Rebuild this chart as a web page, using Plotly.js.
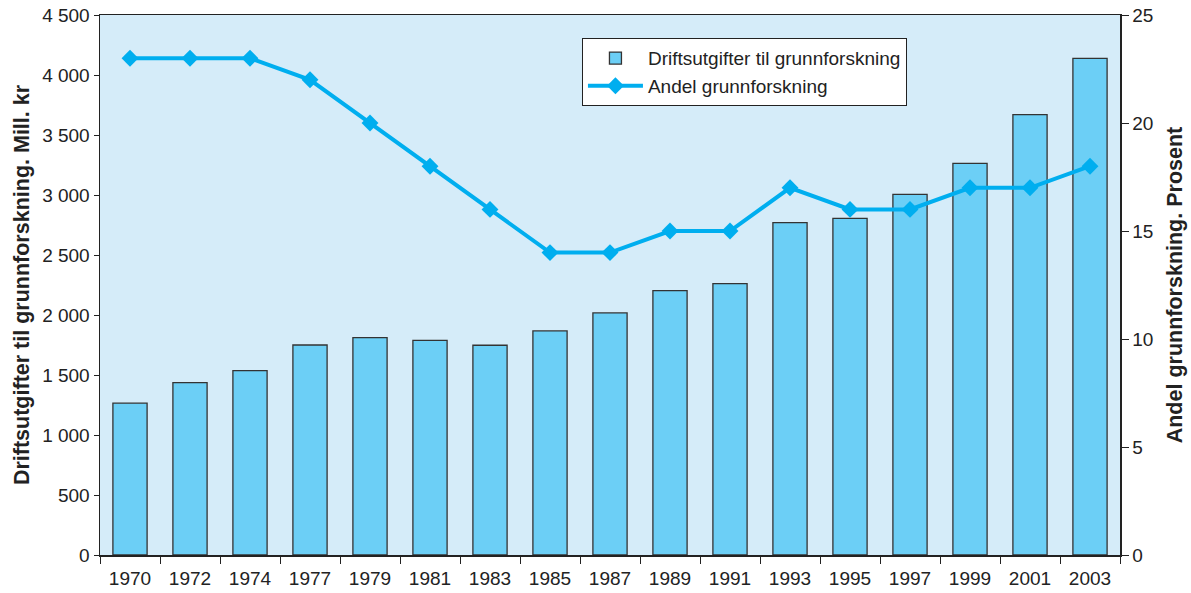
<!DOCTYPE html>
<html>
<head>
<meta charset="utf-8">
<script src="https://cdn.plot.ly/plotly-3.0.1.min.js"></script>
<style>html,body{margin:0;padding:0;background:#fff;}#chart{width:1191px;height:593px;}</style>
</head>
<body>
<div id="chart"></div>
<script>
const years = ["1970","1972","1974","1977","1979","1981","1983","1985","1987","1989","1991","1993","1995","1997","1999","2001","2003"];
const driftsutgifter = [1265,1436,1536,1750,1811,1789,1748,1867,2017,2203,2261,2769,2806,3006,3264,3669,4139];
const andel = [23,23,23,22,20,18,16,14,14,15,15,17,16,16,17,17,18];

const font = {family: "Liberation Sans, Arial, sans-serif", size: 19, color: "#222"};
const titleFont = {family: font.family, size: 21.5, color: "#222", weight: "bold"};

const traces = [
  {
    type: "bar", x: years, y: driftsutgifter, name: "Driftsutgifter til grunnforskning",
    marker: {color: "#6ccff6", line: {color: "#333", width: 1.3}},
    yaxis: "y"
  },
  {
    type: "scatter", mode: "lines+markers", x: years, y: andel, name: "Andel grunnforskning",
    line: {color: "#00aeef", width: 4},
    marker: {symbol: "diamond", size: 13, color: "#00aeef"},
    yaxis: "y2"
  }
];

const n = years.length;

const layout = {
  width: 1191, height: 593,
  margin: {l: 100, r: 71, t: 15, b: 38},
  paper_bgcolor: "#fff", plot_bgcolor: "#d5ecf9",
  font: font,
  separators: ", ",
  bargap: 0.43,
  showlegend: true,
  legend: {
    x: 0.4725, y: 0.957, xanchor: "left", yanchor: "top",
    bgcolor: "#fff", bordercolor: "#222", borderwidth: 1,
    font: {family: font.family, size: 19, color: "#222"},
    tracegroupgap: 4, traceorder: "normal", itemwidth: 55
  },
  xaxis: {
    type: "category", range: [-0.5, n - 0.5],
    showline: true, linecolor: "#222", linewidth: 1.5, mirror: true,
    ticks: "outside", tickson: "boundaries", ticklen: 7, tickcolor: "#222", tickwidth: 1,
    showgrid: false, tickfont: font, zeroline: false, ticklabelstandoff: 6
  },
  xaxis2: {
    overlaying: "x", anchor: "y", type: "linear", range: [-0.5, n - 0.5],
    tick0: -0.5, dtick: 1, ticks: "inside", ticklen: 6, tickcolor: "#222",
    showticklabels: false, showgrid: false, showline: false, zeroline: false
  },
  yaxis: {
    range: [0, 4500], dtick: 500, tickformat: ",d",
    showline: true, linecolor: "#222", linewidth: 1.5,
    ticks: "outside", ticklen: 5, tickcolor: "#222",
    showgrid: false, zeroline: false, tickfont: font,
    title: {text: "Driftsutgifter til grunnforskning. Mill. kr", font: titleFont, standoff: 6}
  },
  yaxis2: {
    overlaying: "y", side: "right", range: [0, 25], dtick: 5,
    showline: true, linecolor: "#222", linewidth: 1.5,
    ticks: "outside", ticklen: 7, tickcolor: "#222",
    showgrid: false, zeroline: false, tickfont: font,
    title: {text: "Andel grunnforskning. Prosent", font: titleFont, standoff: 14}
  },
  yaxis3: {
    overlaying: "y", anchor: "x", side: "left", range: [0, 4500],
    ticks: "inside", ticklen: 7, tickcolor: "#222", dtick: 500,
    showticklabels: false, showgrid: false, showline: false, zeroline: false
  }
};

Plotly.newPlot("chart", traces, layout, {displayModeBar: false, staticPlot: true});
</script>
</body>
</html>
